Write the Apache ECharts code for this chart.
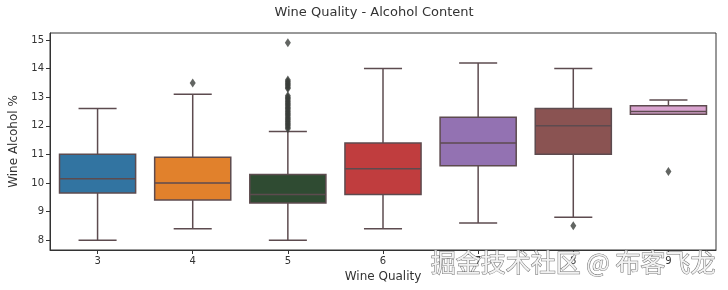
<!DOCTYPE html>
<html>
<head>
<meta charset="utf-8">
<script src="https://cdn.jsdelivr.net/npm/echarts@6/dist/echarts.min.js"></script>
<style>
html,body{margin:0;padding:0;background:#fff;}
#chart{width:728px;height:290px;}
</style>
</head>
<body>
<div id="chart"></div>
<script>
// ---- data ----
const categories = ['3', '4', '5', '6', '7', '8', '9'];
// [lower whisker, Q1, median, Q3, upper whisker]
const boxStats = [
  [8.0, 9.65, 10.15, 11.0, 12.6],
  [8.4, 9.4, 10.0, 10.9, 13.1],
  [8.0, 9.3, 9.6, 10.3, 11.8],
  [8.4, 9.6, 10.5, 11.4, 14.0],
  [8.6, 10.6, 11.4, 12.3, 14.2],
  [8.8, 11.0, 12.0, 12.6, 14.0],
  [12.4, 12.4, 12.5, 12.7, 12.9]
];
const outliers4 = [13.5];
const outliers5 = [11.9, 11.95, 12.0, 12.05, 12.1, 12.15, 12.2, 12.25, 12.3, 12.35, 12.4, 12.45, 12.5, 12.55, 12.6, 12.65, 12.7, 12.75, 12.8, 12.85, 12.9, 12.95, 13.0, 13.05, 13.3, 13.35, 13.4, 13.45, 13.5, 13.55, 13.6, 14.9];
const outliers8 = [8.5];
const outliers9 = [10.4];
const boxColors = ['#3274a1', '#e1812c', '#2f4b32', '#c03d3e', '#9372b2', '#8a5352', '#d9a3cf'];
const yTicks = [8, 9, 10, 11, 12, 13, 14, 15];

const lineColor = '#5d4b4f';
const fontFamily = 'DejaVu Sans';

const outlierPoints = [];
outliers4.forEach(v => outlierPoints.push(['4', v]));
outliers5.forEach(v => outlierPoints.push(['5', v]));
outliers8.forEach(v => outlierPoints.push(['8', v]));
outliers9.forEach(v => outlierPoints.push(['9', v]));

const boxData = boxStats.map((d, i) => [i].concat(d));

function renderBox(params, api) {
  const idx = api.value(0);
  const lo = api.coord([idx, api.value(1)]);
  const q1 = api.coord([idx, api.value(2)]);
  const med = api.coord([idx, api.value(3)]);
  const q3 = api.coord([idx, api.value(4)]);
  const hi = api.coord([idx, api.value(5)]);
  const band = api.size([1, 0])[0];
  const cx = lo[0];
  const bw = band * 0.8;
  const cw = band * 0.4;
  const ls = {stroke: lineColor, lineWidth: 1.5, fill: null};
  return {
    type: 'group',
    children: [
      {type: 'line', shape: {x1: cx, y1: q3[1], x2: cx, y2: hi[1]}, style: ls},
      {type: 'line', shape: {x1: cx, y1: q1[1], x2: cx, y2: lo[1]}, style: ls},
      {type: 'line', shape: {x1: cx - cw / 2, y1: hi[1], x2: cx + cw / 2, y2: hi[1]}, style: ls},
      {type: 'line', shape: {x1: cx - cw / 2, y1: lo[1], x2: cx + cw / 2, y2: lo[1]}, style: ls},
      {type: 'rect', shape: {x: cx - bw / 2, y: q3[1], width: bw, height: q1[1] - q3[1]},
        style: {fill: boxColors[idx], stroke: lineColor, lineWidth: 1.5}},
      {type: 'line', shape: {x1: cx - bw / 2, y1: med[1], x2: cx + bw / 2, y2: med[1]}, style: ls}
    ]
  };
}

const chart = echarts.init(document.getElementById('chart'), null, {renderer: 'canvas'});
chart.setOption({
  animation: false,
  backgroundColor: '#ffffff',
  title: {
    text: 'Wine Quality - Alcohol Content',
    left: 369, top: 1, textAlign: 'center',
    textStyle: {fontFamily: fontFamily, fontSize: 13, fontWeight: 'normal', color: '#333'}
  },
  grid: {left: 45, right: 12, top: 33, bottom: 40, show: true, borderColor: '#333', borderWidth: 1, backgroundColor: 'transparent'},
  xAxis: {
    type: 'category',
    data: categories,
    boundaryGap: true,
    name: 'Wine Quality',
    nameLocation: 'middle',
    nameGap: 21,
    nameTextStyle: {fontFamily: fontFamily, fontSize: 12, color: '#333'},
    axisLine: {show: true, lineStyle: {color: '#333'}},
    axisTick: {show: true, alignWithLabel: true, length: 4, lineStyle: {color: '#333'}},
    axisLabel: {fontFamily: fontFamily, fontSize: 10, color: '#333', margin: 6},
    splitLine: {show: false}
  },
  yAxis: {
    type: 'value',
    min: 7.655, max: 15.245,
    name: 'Wine Alcohol %',
    nameLocation: 'middle',
    nameGap: 30,
    nameTextStyle: {fontFamily: fontFamily, fontSize: 12, color: '#333'},
    axisLine: {show: true, lineStyle: {color: '#333'}},
    axisTick: {show: true, length: 4, lineStyle: {color: '#333'}, customValues: yTicks},
    axisLabel: {fontFamily: fontFamily, fontSize: 10, color: '#333', margin: 6, customValues: yTicks},
    splitLine: {show: false}
  },
  series: [
    {
      type: 'custom',
      renderItem: renderBox,
      data: boxData,
      encode: {x: 0, y: [1, 2, 3, 4, 5]},
      z: 2
    },
    {
      type: 'scatter',
      data: outlierPoints,
      symbol: 'diamond',
      symbolSize: [6, 9],
      itemStyle: {color: '#3b3f3b'},
      z: 5
    }
  ],
  graphic: [
    {
      type: 'text',
      right: 12, top: 249,
      z: 100,
      style: {
        text: '掘金技术社区 @ 布客飞龙',
        fontFamily: 'Noto Sans CJK SC',
        fontSize: 25,
        fill: '#f2f2f2',
        stroke: '#707070',
        lineWidth: 1
      }
    }
  ]
});
</script>
</body>
</html>
